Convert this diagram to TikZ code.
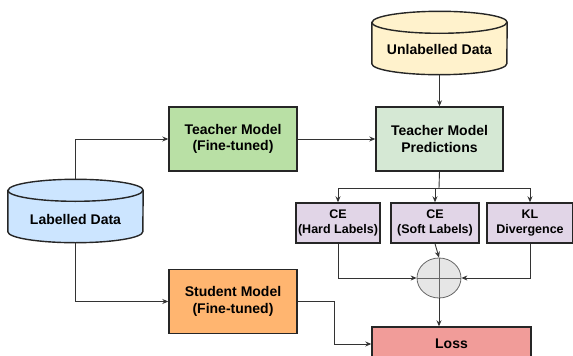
\documentclass[tikz,border=0pt]{standalone}
\usepackage{fontspec}
\setmainfont{Liberation Sans}
\usepackage{xcolor}
\usepackage{tikz}
\usetikzlibrary{shapes.geometric,arrows.meta}

\definecolor{teachgreen}{HTML}{B9E0A5}
\definecolor{predgreen}{HTML}{D5E8D4}
\definecolor{studorange}{HTML}{FFB570}
\definecolor{losspink}{HTML}{F19C99}
\definecolor{lossviolet}{HTML}{E1D5E7}
\definecolor{datablue}{HTML}{CCE5FF}
\definecolor{datayellow}{HTML}{FFF2CC}
\definecolor{sumgray}{HTML}{E6E6E6}
\definecolor{linegray}{HTML}{333333}

\begin{document}
\begin{tikzpicture}[x=1pt,y=-1pt,
  bigfont/.style={font=\bfseries\fontsize{14}{16.5}\selectfont},
  smallfont/.style={font=\bfseries\fontsize{12.5}{15.5}\selectfont},
  model/.style={draw=black!85, line width=1.4pt, align=center, bigfont,
    minimum width=128pt, minimum height=64pt, inner sep=0pt},
  lossbox/.style={draw=black!85, line width=1.4pt, align=center, smallfont,
    minimum height=40pt, inner sep=0pt},
  datahold/.style={minimum width=135pt, minimum height=63pt, inner sep=0pt},
  cylline/.style={draw=black!85, line width=1.4pt},
  arr/.style={draw=linegray, line width=0.9pt, -{Stealth[length=6pt,width=5pt]}},
  ln/.style={draw=linegray, line width=0.9pt}]

\useasboundingbox (0,0) rectangle (573,356);

% data sources
\node[datahold] (labelled) at (75.5,211) {};
\draw[cylline, fill=datablue]
  ([yshift=-11pt]labelled.north west) -- ([yshift=11pt]labelled.south west)
  arc[start angle=180, end angle=0, x radius=67.5, y radius=11]
  -- ([yshift=-11pt]labelled.north east)
  arc[start angle=0, end angle=-180, x radius=67.5, y radius=11] -- cycle;
\draw[cylline] ([yshift=-11pt]labelled.north west)
  arc[start angle=180, end angle=0, x radius=67.5, y radius=11];
\node[bigfont] (labelledtxt) at (75.5,219) {Labelled Data};

\node[datahold] (unlabelled) at (439.5,43) {};
\draw[cylline, fill=datayellow]
  ([yshift=-11pt]unlabelled.north west) -- ([yshift=11pt]unlabelled.south west)
  arc[start angle=180, end angle=0, x radius=67.5, y radius=11]
  -- ([yshift=-11pt]unlabelled.north east)
  arc[start angle=0, end angle=-180, x radius=67.5, y radius=11] -- cycle;
\draw[cylline] ([yshift=-11pt]unlabelled.north west)
  arc[start angle=180, end angle=0, x radius=67.5, y radius=11];
\node[bigfont] (unlabelledtxt) at (439.5,49) {Unlabelled Data};

% models
\node[model, fill=teachgreen] (teacher) at (233,139) {Teacher Model\\(Fine-tuned)};
\node[model, fill=studorange] (student) at (233,301.5) {Student Model\\(Fine-tuned)};
\node[model, fill=predgreen, minimum width=127pt] (preds) at (439.5,139) {Teacher Model\\Predictions};

% loss terms
\node[lossbox, fill=lossviolet, minimum width=84pt] (hard) at (338,223) {CE\\(Hard Labels)};
\node[lossbox, fill=lossviolet, minimum width=88pt] (soft) at (435,223) {CE\\(Soft Labels)};
\node[lossbox, fill=lossviolet, minimum width=86pt] (kl) at (530,223) {KL\\Divergence};

\node[ellipse, draw=black!60, line width=0.8pt, fill=sumgray, minimum width=44pt,
  minimum height=40pt, inner sep=0pt] (sum) at (439,278) {};
\draw[draw=black!60, line width=0.8pt] (sum.north) -- (sum.south) (sum.west) -- (sum.east);

\node[model, fill=losspink, minimum width=159pt, minimum height=34pt] (loss) at (451.5,344) {Loss};

\coordinate (split) at (439,188);

% connectors
\draw[arr] (labelled.north) |- (teacher.west);
\draw[arr] (labelled.south) |- (student.west);
\draw[arr] (teacher.east) -- (preds.west);
\draw[arr] (unlabelled.south) -- (preds.north);

\draw[ln] (preds.south) -- (split);
\draw[arr] (split) -| (hard.north);
\draw[arr] (split) -| (soft.north);
\draw[arr] (split) -| (kl.north);

\draw[arr] (hard.south) |- (sum.west);
\draw[arr] (soft.south) -- (sum.north);
\draw[arr] (kl.south) |- (sum.east);
\draw[arr] (sum.south) -- (sum.south |- loss.north);
\draw[arr] (student.east) -- ++(37,0) |- (loss.west);

\end{tikzpicture}
\end{document}
